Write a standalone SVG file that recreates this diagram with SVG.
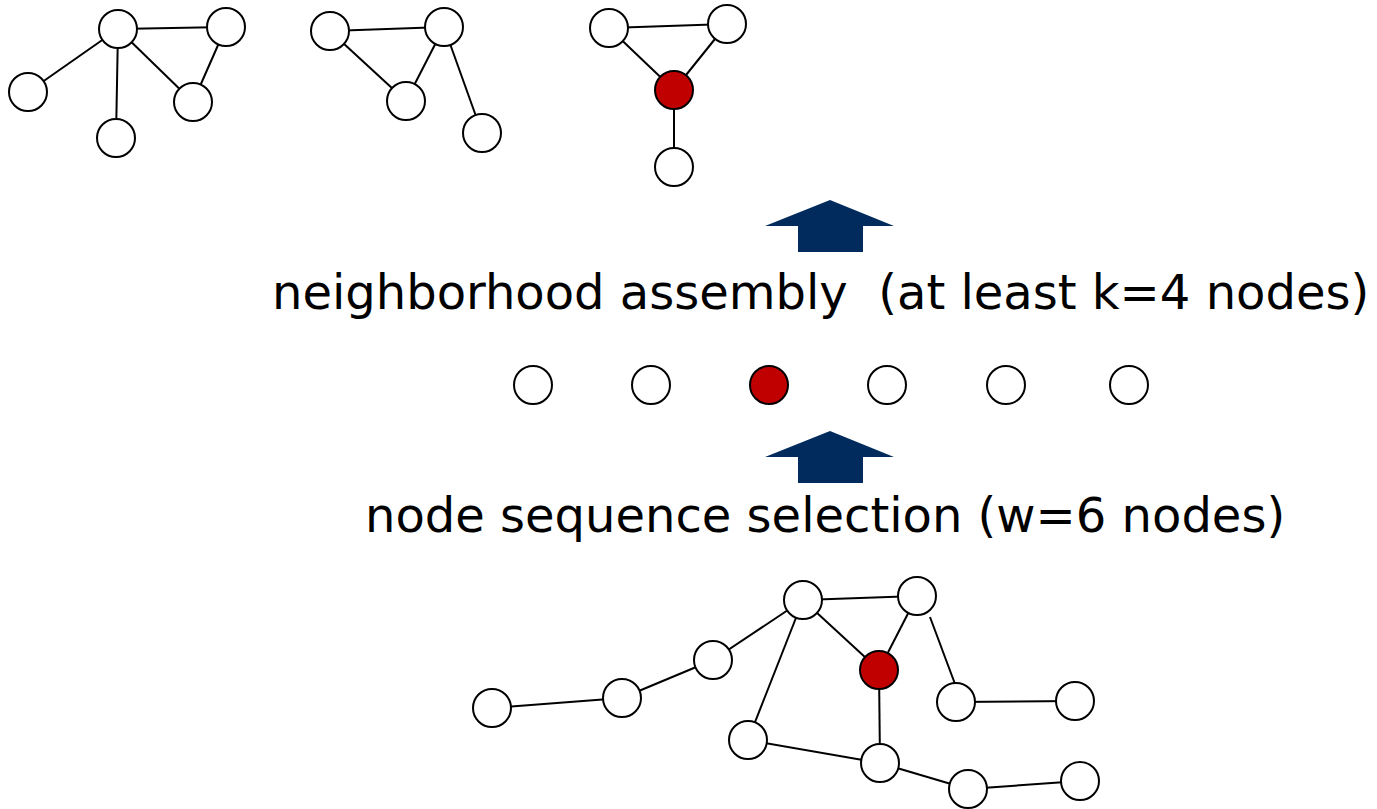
<svg xmlns="http://www.w3.org/2000/svg" width="1377" height="809" viewBox="0 0 1377 809">
<style>
.n{fill:#fff;stroke:#000;stroke-width:2}
.r{fill:#C00000;stroke:#000;stroke-width:2}
.e{stroke:#000;stroke-width:2;fill:none}
.arrow{fill:#002B5C}
.t{font-family:"DejaVu Sans",Verdana,sans-serif;font-size:48px;fill:#000;white-space:pre}
</style>
<defs>
<polygon id="up" points="830,200 894,226 863,226 863,252 798,252 798,226 765,226"/>
</defs>
<rect width="1377" height="809" fill="#fff"/>
<g id="connectors">
<line class="e" x1="118" y1="29" x2="226" y2="27"/>
<line class="e" x1="118" y1="29" x2="28" y2="92"/>
<line class="e" x1="118" y1="29" x2="116" y2="138"/>
<line class="e" x1="118" y1="29" x2="193" y2="102"/>
<line class="e" x1="226" y1="27" x2="193" y2="102"/>
<line class="e" x1="330" y1="31" x2="444" y2="27"/>
<line class="e" x1="330" y1="31" x2="406" y2="101"/>
<line class="e" x1="444" y1="27" x2="406" y2="101"/>
<line class="e" x1="444" y1="27" x2="482" y2="133"/>
<line class="e" x1="609" y1="28" x2="727" y2="24"/>
<line class="e" x1="609" y1="28" x2="674" y2="90"/>
<line class="e" x1="727" y1="24" x2="674" y2="90"/>
<line class="e" x1="674" y1="90" x2="674" y2="167"/>
<line class="e" x1="492" y1="708" x2="622" y2="698"/>
<line class="e" x1="622" y1="698" x2="713" y2="660"/>
<line class="e" x1="713" y1="660" x2="803" y2="600"/>
<line class="e" x1="803" y1="600" x2="917" y2="596"/>
<line class="e" x1="803" y1="600" x2="879" y2="670"/>
<line class="e" x1="803" y1="600" x2="748" y2="740"/>
<line class="e" x1="917" y1="596" x2="879" y2="670"/>
<line class="e" x1="930" y1="617" x2="955" y2="684"/>
<line class="e" x1="956" y1="702" x2="1075" y2="701"/>
<line class="e" x1="879" y1="670" x2="880" y2="763"/>
<line class="e" x1="748" y1="740" x2="880" y2="763"/>
<line class="e" x1="880" y1="763" x2="968" y2="789"/>
<line class="e" x1="968" y1="789" x2="1080" y2="781"/>
</g>
<g id="g1a"><circle class="n" cx="118" cy="29" r="19"/></g>
<g id="g1b"><circle class="n" cx="226" cy="27" r="19"/></g>
<g id="g1c"><circle class="n" cx="28" cy="92" r="19"/></g>
<g id="g1d"><circle class="n" cx="116" cy="138" r="19"/></g>
<g id="g1e"><circle class="n" cx="193" cy="102" r="19"/></g>
<g id="g2a"><circle class="n" cx="330" cy="31" r="19"/></g>
<g id="g2b"><circle class="n" cx="444" cy="27" r="19"/></g>
<g id="g2c"><circle class="n" cx="406" cy="101" r="19"/></g>
<g id="g2d"><circle class="n" cx="482" cy="133" r="19"/></g>
<g id="g3a"><circle class="n" cx="609" cy="28" r="19"/></g>
<g id="g3b"><circle class="n" cx="727" cy="24" r="19"/></g>
<g id="g3red"><circle class="r" cx="674" cy="90" r="19"/></g>
<g id="g3d"><circle class="n" cx="674" cy="167" r="19"/></g>
<g id="arrow1"><use href="#up" class="arrow"/></g>
<g id="label1"><text class="t" x="272" y="309" xml:space="preserve">neighborhood assembly  (at least k=4 nodes)</text></g>
<g id="s1"><circle class="n" cx="533" cy="385" r="19"/></g>
<g id="s2"><circle class="n" cx="651" cy="385" r="19"/></g>
<g id="s3"><circle class="r" cx="769" cy="385" r="19"/></g>
<g id="s4"><circle class="n" cx="887" cy="385" r="19"/></g>
<g id="s5"><circle class="n" cx="1006" cy="385" r="19"/></g>
<g id="s6"><circle class="n" cx="1129" cy="385" r="19"/></g>
<g id="arrow2"><use href="#up" class="arrow" transform="translate(0,231)"/></g>
<g id="label2"><text class="t" x="365" y="532">node sequence selection (w=6 nodes)</text></g>
<g id="b1"><circle class="n" cx="492" cy="708" r="19"/></g>
<g id="b2"><circle class="n" cx="622" cy="698" r="19"/></g>
<g id="b3"><circle class="n" cx="713" cy="660" r="19"/></g>
<g id="b4"><circle class="n" cx="803" cy="600" r="19"/></g>
<g id="b5"><circle class="n" cx="917" cy="596" r="19"/></g>
<g id="b6red"><circle class="r" cx="879" cy="670" r="19"/></g>
<g id="b7"><circle class="n" cx="956" cy="702" r="19"/></g>
<g id="b8"><circle class="n" cx="1075" cy="701" r="19"/></g>
<g id="b9"><circle class="n" cx="748" cy="740" r="19"/></g>
<g id="b10"><circle class="n" cx="880" cy="763" r="19"/></g>
<g id="b11"><circle class="n" cx="968" cy="789" r="19"/></g>
<g id="b12"><circle class="n" cx="1080" cy="781" r="19"/></g>
</svg>
